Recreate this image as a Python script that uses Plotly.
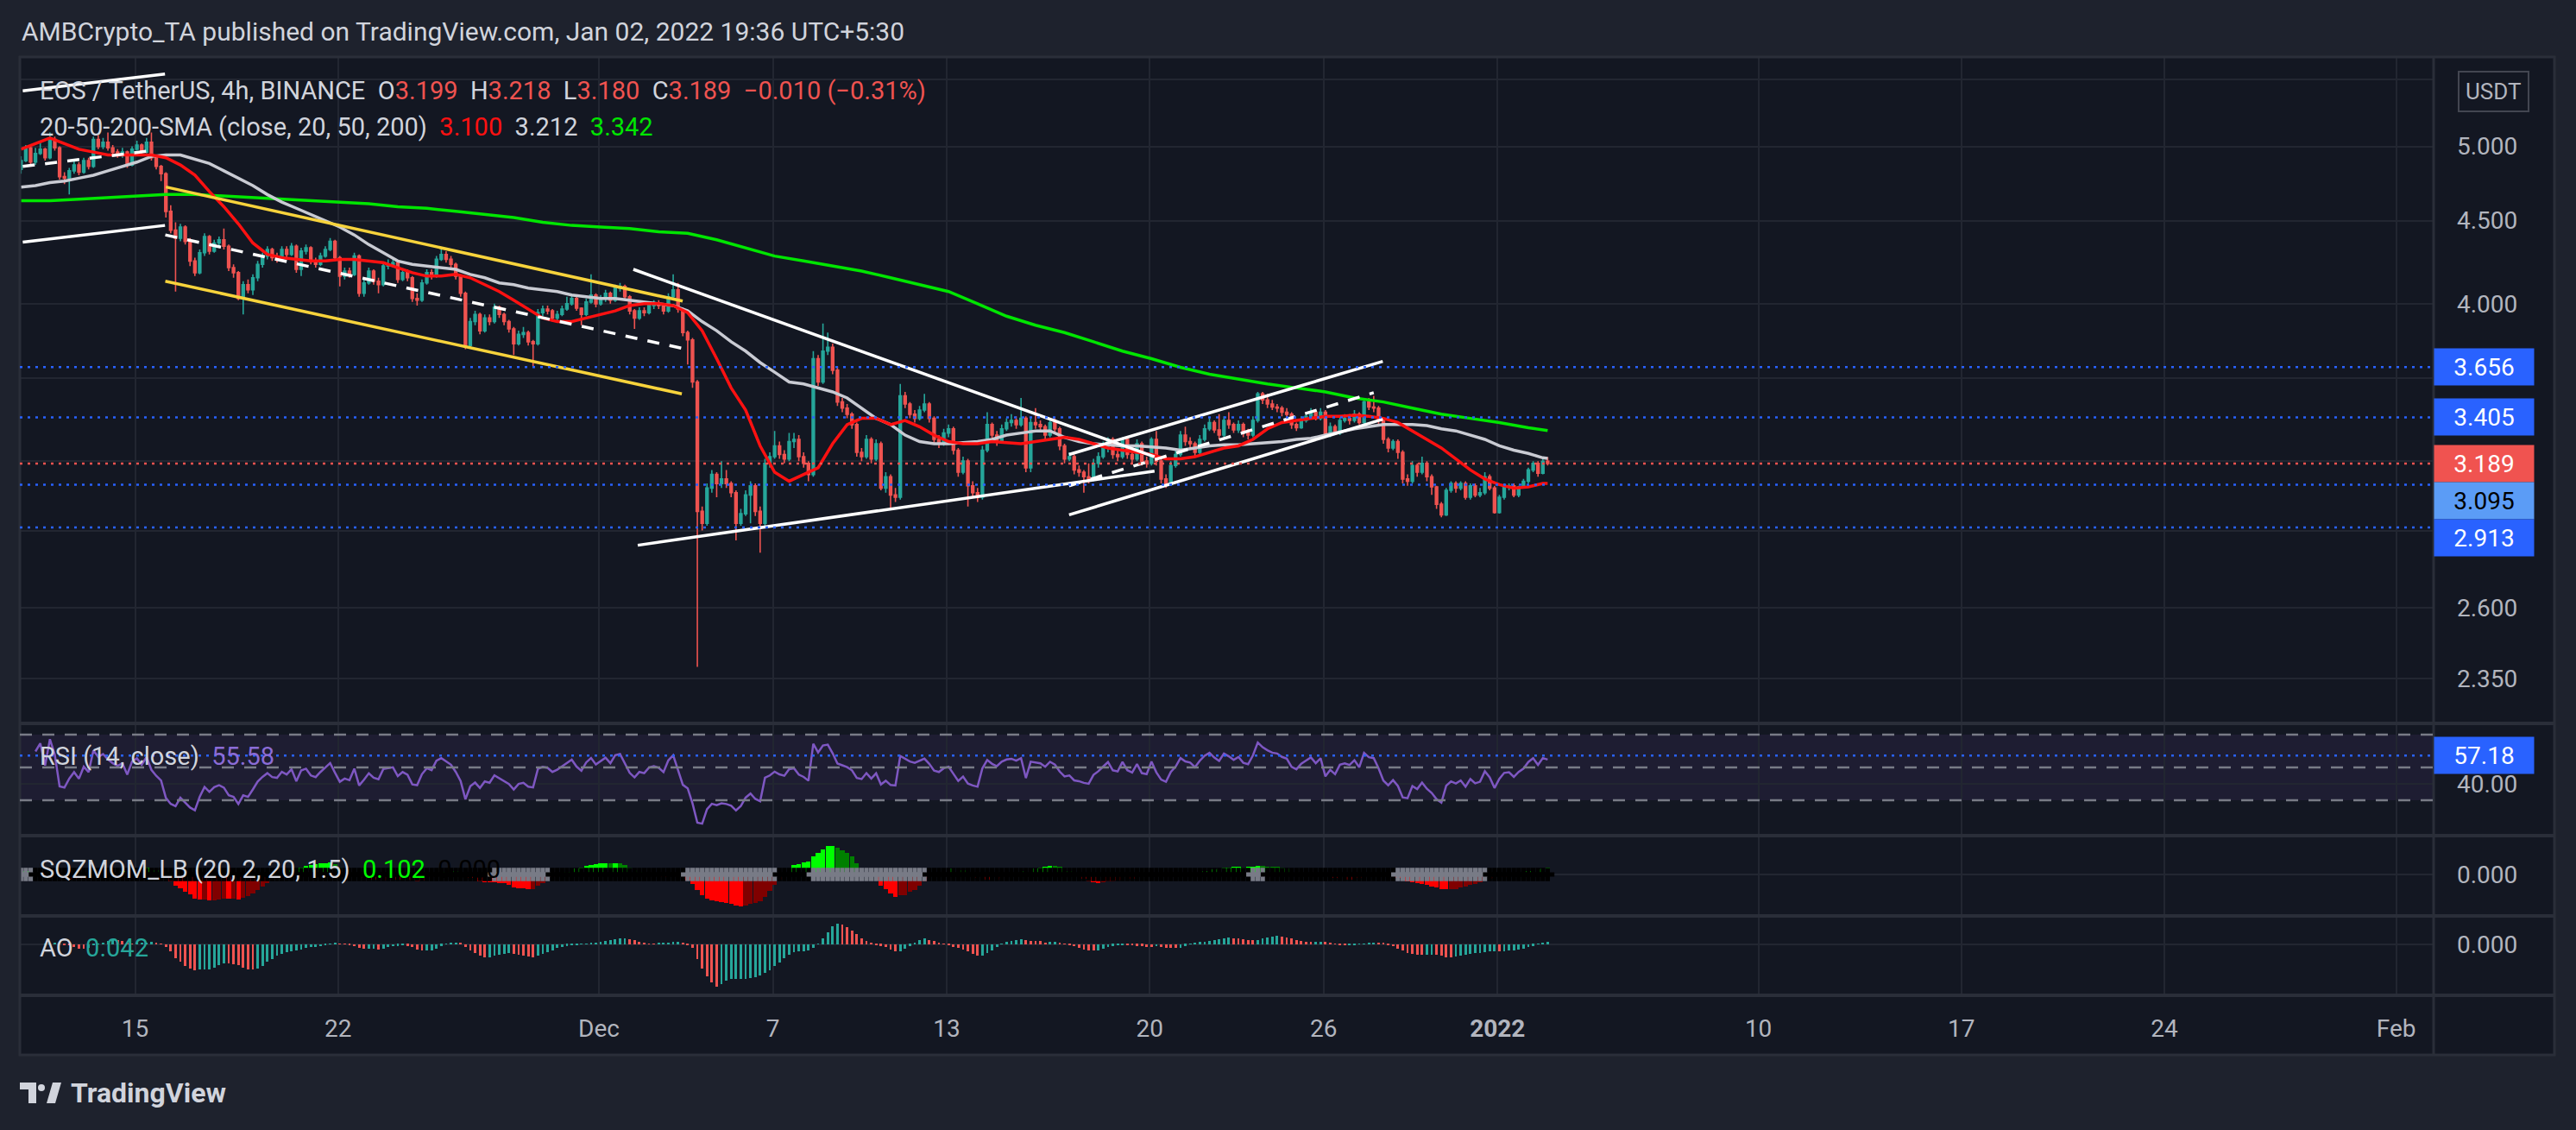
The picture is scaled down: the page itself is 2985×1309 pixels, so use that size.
import numpy as np
import pandas as pd
import plotly.graph_objects as go
from plotly.subplots import make_subplots

# EOS / TetherUS 4h candles, 11 Nov 2021 01:30 .. 02 Jan 2022 17:30 (UTC+5:30)
FIRST_OPEN = 4.84
CLOSE = [
    4.90, 4.99, 4.89, 4.95, 4.98, 4.92, 5.05, 4.99, 4.79, 4.78,
    4.83, 4.87, 4.82, 4.90, 4.86, 5.05, 5.00, 5.03, 4.99, 4.96,
    4.94, 4.96, 4.87, 4.98, 5.01, 4.96, 5.03, 4.92, 4.86, 4.81,
    4.56, 4.44, 4.39, 4.46, 4.37, 4.25, 4.18, 4.30, 4.40, 4.31,
    4.36, 4.38, 4.34, 4.21, 4.18, 4.03, 4.11, 4.08, 4.15, 4.23,
    4.28, 4.32, 4.27, 4.26, 4.32, 4.29, 4.34, 4.20, 4.31, 4.33,
    4.25, 4.23, 4.28, 4.32, 4.37, 4.27, 4.16, 4.19, 4.17, 4.28,
    4.06, 4.12, 4.19, 4.13, 4.11, 4.22, 4.23, 4.24, 4.14, 4.18,
    4.15, 4.03, 4.02, 4.12, 4.18, 4.16, 4.26, 4.29, 4.26, 4.23,
    4.16, 4.06, 3.77, 3.90, 3.94, 3.85, 3.92, 3.90, 3.98, 3.94,
    3.90, 3.86, 3.78, 3.83, 3.84, 3.79, 3.78, 3.95, 3.97, 3.96,
    3.92, 3.94, 3.97, 4.00, 4.03, 3.975, 3.94, 4.01, 4.05, 4.00,
    4.03, 4.06, 4.02, 4.09, 4.10, 4.04, 3.96, 3.92, 3.96, 3.95,
    3.99, 4.00, 3.99, 3.96, 4.04, 4.08, 3.97, 3.84, 3.80, 3.58,
    2.98, 2.93, 3.08, 3.14, 3.10, 3.12, 3.10, 3.06, 2.93, 2.97,
    3.05, 3.09, 2.98, 2.93, 3.19, 3.22, 3.27, 3.23, 3.21, 3.29,
    3.30, 3.22, 3.19, 3.14, 3.70, 3.58, 3.74, 3.76, 3.64, 3.48,
    3.45, 3.42, 3.37, 3.24, 3.22, 3.30, 3.21, 3.28, 3.08, 3.13,
    3.05, 3.04, 3.51, 3.47, 3.42, 3.40, 3.44, 3.47, 3.40, 3.30,
    3.28, 3.33, 3.35, 3.25, 3.15, 3.20, 3.09, 3.06, 3.04, 3.25,
    3.37, 3.32, 3.29, 3.35, 3.38, 3.39, 3.37, 3.40, 3.17, 3.38,
    3.37, 3.36, 3.32, 3.38, 3.35, 3.27, 3.21, 3.22, 3.16, 3.15,
    3.13, 3.12, 3.19, 3.22, 3.26, 3.30, 3.23, 3.22, 3.30, 3.23,
    3.21, 3.28, 3.20, 3.19, 3.30, 3.20, 3.12, 3.095, 3.18, 3.23,
    3.32, 3.29, 3.28, 3.24, 3.30, 3.35, 3.38, 3.345, 3.32, 3.39,
    3.37, 3.345, 3.37, 3.33, 3.32, 3.39, 3.52, 3.49, 3.47, 3.455,
    3.45, 3.43, 3.42, 3.37, 3.355, 3.39, 3.41, 3.43, 3.40, 3.43,
    3.32, 3.36, 3.33, 3.39, 3.40, 3.39, 3.42, 3.38, 3.48, 3.455,
    3.45, 3.39, 3.30, 3.26, 3.29, 3.24, 3.12, 3.11, 3.18, 3.15,
    3.19, 3.13, 3.085, 3.01, 2.965, 3.07, 3.10, 3.08, 3.10, 3.04,
    3.09, 3.05, 3.06, 3.13, 3.08, 2.975, 3.04, 3.085, 3.09, 3.05,
    3.085, 3.11, 3.16, 3.19, 3.145, 3.199, 3.189,
]
HIGH = [
    4.93, 5.01, 5.00, 4.99, 5.03, 4.99, 5.10, 5.07, 5.00, 4.82,
    4.85, 4.90, 4.89, 4.92, 4.92, 5.07, 5.08, 5.06, 5.10, 5.01,
    4.98, 4.99, 4.97, 5.00, 5.04, 5.02, 5.06, 5.10, 4.94, 4.87,
    4.82, 4.60, 4.49, 4.48, 4.47, 4.39, 4.27, 4.32, 4.42, 4.41,
    4.38, 4.40, 4.45, 4.35, 4.23, 4.19, 4.13, 4.14, 4.17, 4.25,
    4.30, 4.34, 4.33, 4.30, 4.34, 4.34, 4.36, 4.35, 4.33, 4.35,
    4.34, 4.27, 4.30, 4.34, 4.39, 4.38, 4.28, 4.21, 4.21, 4.30,
    4.29, 4.14, 4.21, 4.20, 4.15, 4.24, 4.26, 4.27, 4.25, 4.20,
    4.20, 4.16, 4.06, 4.14, 4.20, 4.20, 4.28, 4.32, 4.31, 4.28,
    4.24, 4.17, 4.07, 3.92, 3.96, 3.95, 3.94, 3.94, 4.00, 3.99,
    3.95, 3.91, 3.87, 3.85, 3.87, 3.85, 3.80, 3.97, 3.99, 3.99,
    3.97, 3.96, 3.99, 4.04, 4.05, 4.04, 3.98, 4.03, 4.17, 4.06,
    4.05, 4.08, 4.07, 4.11, 4.12, 4.11, 4.05, 3.97, 3.98, 3.98,
    4.01, 4.02, 4.02, 4.00, 4.06, 4.17, 4.12, 3.98, 3.85, 3.81,
    3.59, 3.00, 3.10, 3.16, 3.15, 3.20, 3.16, 3.11, 3.07, 2.99,
    3.07, 3.11, 3.10, 3.00, 3.21, 3.24, 3.34, 3.29, 3.25, 3.33,
    3.33, 3.32, 3.24, 3.20, 3.74, 3.72, 3.89, 3.84, 3.78, 3.66,
    3.50, 3.47, 3.43, 3.38, 3.26, 3.32, 3.31, 3.30, 3.29, 3.15,
    3.14, 3.08, 3.57, 3.53, 3.48, 3.44, 3.46, 3.52, 3.48, 3.41,
    3.32, 3.35, 3.37, 3.36, 3.26, 3.22, 3.21, 3.11, 3.08, 3.27,
    3.43, 3.38, 3.34, 3.37, 3.40, 3.42, 3.41, 3.50, 3.41, 3.40,
    3.45, 3.39, 3.37, 3.40, 3.40, 3.36, 3.28, 3.24, 3.23, 3.18,
    3.16, 3.19, 3.21, 3.24, 3.29, 3.31, 3.31, 3.25, 3.31, 3.31,
    3.24, 3.30, 3.29, 3.22, 3.31, 3.34, 3.21, 3.14, 3.20, 3.25,
    3.34, 3.36, 3.31, 3.29, 3.32, 3.37, 3.40, 3.39, 3.42, 3.41,
    3.43, 3.38, 3.39, 3.38, 3.35, 3.41, 3.53, 3.53, 3.52, 3.49,
    3.47, 3.46, 3.45, 3.43, 3.38, 3.41, 3.42, 3.45, 3.44, 3.45,
    3.44, 3.38, 3.37, 3.41, 3.42, 3.42, 3.44, 3.43, 3.50, 3.50,
    3.51, 3.46, 3.40, 3.31, 3.30, 3.30, 3.25, 3.14, 3.20, 3.19,
    3.22, 3.20, 3.14, 3.09, 3.02, 3.08, 3.11, 3.11, 3.11, 3.11,
    3.10, 3.10, 3.08, 3.15, 3.14, 3.09, 3.05, 3.10, 3.10, 3.10,
    3.09, 3.12, 3.17, 3.20, 3.20, 3.21, 3.218,
]
LOW = [
    4.81, 4.89, 4.87, 4.87, 4.94, 4.90, 4.91, 4.97, 4.77, 4.74,
    4.67, 4.81, 4.80, 4.81, 4.84, 4.85, 4.98, 4.98, 4.97, 4.94,
    4.92, 4.92, 4.85, 4.86, 4.97, 4.95, 4.95, 4.90, 4.84, 4.76,
    4.52, 4.42, 4.07, 4.37, 4.35, 4.22, 4.16, 4.17, 4.28, 4.29,
    4.30, 4.33, 4.32, 4.19, 4.15, 4.02, 3.94, 4.06, 4.05, 4.13,
    4.21, 4.26, 4.25, 4.24, 4.25, 4.27, 4.28, 4.18, 4.16, 4.29,
    4.23, 4.21, 4.22, 4.27, 4.31, 4.25, 4.10, 4.14, 4.15, 4.16,
    4.04, 4.04, 4.11, 4.11, 4.06, 4.10, 4.20, 4.21, 4.12, 4.13,
    4.13, 4.01, 3.99, 4.01, 4.11, 4.14, 4.15, 4.25, 4.24, 4.21,
    4.14, 4.04, 3.75, 3.76, 3.88, 3.83, 3.84, 3.88, 3.89, 3.92,
    3.88, 3.84, 3.72, 3.77, 3.81, 3.77, 3.66, 3.77, 3.93, 3.94,
    3.90, 3.90, 3.93, 3.96, 3.99, 3.96, 3.88, 3.93, 4.00, 3.98,
    3.99, 4.01, 4.00, 4.01, 4.07, 4.02, 3.94, 3.86, 3.91, 3.93,
    3.94, 3.97, 3.97, 3.94, 3.95, 4.03, 3.95, 3.82, 3.67, 3.55,
    2.39, 2.90, 2.92, 3.06, 3.04, 3.08, 3.08, 3.04, 2.86, 2.92,
    2.96, 2.93, 2.96, 2.81, 2.92, 3.17, 3.21, 3.21, 3.19, 3.20,
    3.26, 3.20, 3.17, 3.11, 3.13, 3.56, 3.57, 3.72, 3.62, 3.46,
    3.43, 3.40, 3.35, 3.22, 3.20, 3.21, 3.19, 3.20, 3.07, 3.06,
    2.99, 3.02, 3.03, 3.45, 3.40, 3.38, 3.39, 3.43, 3.38, 3.28,
    3.26, 3.27, 3.31, 3.23, 3.13, 3.14, 3.00, 3.04, 3.02, 3.03,
    3.24, 3.30, 3.27, 3.28, 3.34, 3.36, 3.35, 3.36, 3.15, 3.15,
    3.35, 3.34, 3.30, 3.31, 3.33, 3.25, 3.19, 3.20, 3.14, 3.13,
    3.06, 3.10, 3.11, 3.17, 3.21, 3.24, 3.21, 3.20, 3.21, 3.21,
    3.19, 3.20, 3.18, 3.17, 3.18, 3.18, 3.10, 3.08, 3.09, 3.17,
    3.22, 3.27, 3.26, 3.22, 3.23, 3.29, 3.34, 3.33, 3.30, 3.31,
    3.35, 3.33, 3.33, 3.31, 3.30, 3.31, 3.38, 3.47, 3.45, 3.44,
    3.43, 3.41, 3.40, 3.35, 3.34, 3.35, 3.38, 3.40, 3.39, 3.39,
    3.31, 3.31, 3.32, 3.32, 3.38, 3.37, 3.38, 3.37, 3.37, 3.44,
    3.43, 3.37, 3.28, 3.24, 3.25, 3.21, 3.10, 3.09, 3.10, 3.13,
    3.14, 3.11, 3.05, 2.99, 2.955, 2.96, 3.06, 3.06, 3.07, 3.03,
    3.03, 3.04, 3.04, 3.05, 3.07, 2.97, 2.97, 3.03, 3.07, 3.04,
    3.04, 3.08, 3.10, 3.15, 3.13, 3.14, 3.180,
]

# moving averages as plotted: SMA20/50 every 12h, SMA200 every 24h, last point = legend value
SMA20 = [
    4.98, 5.02, 5.06, 5.02, 4.98, 4.96, 4.94, 4.94, 4.94, 4.94,
    4.92, 4.87, 4.80, 4.69, 4.59, 4.48, 4.36, 4.29, 4.27, 4.26,
    4.25, 4.25, 4.26, 4.26, 4.25, 4.24, 4.21, 4.18, 4.16, 4.16,
    4.17, 4.15, 4.11, 4.07, 4.02, 3.97, 3.92, 3.90, 3.90, 3.92,
    3.94, 3.96, 3.99, 4.00, 4.00, 3.99, 3.95, 3.85, 3.70, 3.55,
    3.44, 3.27, 3.15, 3.11, 3.14, 3.17, 3.28, 3.37, 3.40, 3.40,
    3.37, 3.39, 3.36, 3.32, 3.29, 3.28, 3.28, 3.29, 3.285, 3.28,
    3.29, 3.30, 3.31, 3.30, 3.28, 3.26, 3.25, 3.24, 3.23, 3.21,
    3.21, 3.22, 3.24, 3.26, 3.27, 3.30, 3.35, 3.38, 3.39, 3.40,
    3.41, 3.41, 3.415, 3.41, 3.40, 3.38, 3.34, 3.30, 3.26, 3.21,
    3.16, 3.12, 3.095, 3.08, 3.085, 3.10, 3.100,
]
SMA50 = [
    4.72, 4.73, 4.75, 4.76, 4.78, 4.80, 4.83, 4.86, 4.89, 4.93,
    4.94, 4.94, 4.91, 4.88, 4.83, 4.78, 4.73, 4.67, 4.62, 4.58,
    4.54, 4.50, 4.46, 4.41, 4.35, 4.30, 4.25, 4.23, 4.22, 4.21,
    4.20, 4.17, 4.15, 4.12, 4.11, 4.09, 4.08, 4.07, 4.05, 4.04,
    4.03, 4.03, 4.02, 4.01, 4.00, 3.99, 3.96, 3.90, 3.85, 3.79,
    3.74, 3.68, 3.63, 3.58, 3.57, 3.55, 3.53, 3.50, 3.45, 3.40,
    3.37, 3.32, 3.29, 3.28, 3.28, 3.285, 3.29, 3.30, 3.32, 3.33,
    3.34, 3.34, 3.31, 3.29, 3.28, 3.275, 3.27, 3.27, 3.265, 3.26,
    3.25, 3.26, 3.27, 3.275, 3.275, 3.28, 3.285, 3.29, 3.30, 3.305,
    3.32, 3.335, 3.35, 3.36, 3.37, 3.37, 3.37, 3.365, 3.35, 3.34,
    3.32, 3.30, 3.27, 3.25, 3.235, 3.215, 3.212,
]
SMA200 = [
    4.63, 4.63, 4.64, 4.65, 4.66, 4.67, 4.67, 4.66, 4.65, 4.64,
    4.63, 4.62, 4.61, 4.59, 4.58, 4.56, 4.54, 4.52, 4.49, 4.47,
    4.46, 4.45, 4.43, 4.42, 4.38, 4.33, 4.28, 4.25, 4.22, 4.19,
    4.15, 4.11, 4.07, 4.00, 3.93, 3.88, 3.84, 3.79, 3.74, 3.70,
    3.655, 3.62, 3.595, 3.57, 3.55, 3.53, 3.50, 3.48, 3.45, 3.42,
    3.40, 3.38, 3.355, 3.342,
]

# spans where the squeeze dots are grey (squeeze released); black elsewhere
SQZ_OFF_SPANS = [
    ("2021-11-11 00:00", "2021-11-11 10:00"),
    ("2021-11-27 08:00", "2021-11-29 06:00"),
    ("2021-12-04 01:00", "2021-12-07 02:00"),
    ("2021-12-08 06:00", "2021-12-12 07:00"),
    ("2021-12-23 11:00", "2021-12-23 23:00"),
    ("2021-12-28 11:00", "2021-12-31 16:00"),
]

# the author's drawings: (start time, start price, end time, end price)
WHITE_LINES = [
    ("2021-11-11 03:00", 5.41, "2021-11-16 00:45", 5.54),
    ("2021-11-11 03:00", 4.365, "2021-11-16 00:45", 4.47),
    ("2021-12-02 04:30", 4.20, "2021-12-20 04:00", 3.22),
    ("2021-12-02 08:10", 2.84, "2021-12-20 04:00", 3.155),
    ("2021-12-17 05:15", 3.23, "2021-12-28 01:00", 3.686),
    ("2021-12-17 05:15", 2.965, "2021-12-28 01:00", 3.396),
]
WHITE_DASHED = [
    ("2021-11-11 03:00", 4.86, "2021-11-15 14:00", 4.97),
    ("2021-11-16 01:00", 4.41, "2021-12-03 20:40", 3.755),
    ("2021-12-17 05:15", 3.09, "2021-12-27 17:30", 3.526),
]
YELLOW_LINES = [
    ("2021-11-16 01:30", 4.72, "2021-12-03 21:20", 4.015),
    ("2021-11-16 01:00", 4.13, "2021-12-03 20:40", 3.52),
]

BLUE_LEVELS = [3.656, 3.405, 3.095, 2.913]
LAST_PRICE = 3.189
RSI_MARK = 57.18

# grid levels of the price scale; those hidden under the tags carry no text
PRICE_TICKS = [2.35, 2.6, 2.9, 3.2, 3.6, 4.0, 4.5, 5.0, 5.5]
PRICE_TICK_TEXT = ["2.350", "2.600", "", "", "", "4.000", "4.500", "5.000", ""]
DATE_TICKS = ["2021-11-15", "2021-11-22", "2021-12-01", "2021-12-07", "2021-12-13",
              "2021-12-20", "2021-12-26", "2022-01-01", "2022-01-10", "2022-01-17",
              "2022-01-24", "2022-02-01"]
DATE_LABELS = ["15", "22", "Dec", "7", "13", "20", "26", "<b>2022</b>", "10", "17", "24", "Feb"]

# colours
BG_OUT = "#1e222d"
BG_PANE = "#131722"
GRID = "#222631"
BORDER = "#2a2e39"
TXT = "#d1d4dc"
AXTXT = "#b2b5be"
UP = "#26a69a"
DOWN = "#ef5350"
BLUE = "#2962ff"
FONT = "Roboto"
LEG = 29

# page geometry (pixels) of the plotting block
W, H = 2985, 1309
L, T, R, B = 23, 66, 2820, 1153


def fx(px):
    return (px - L) / (R - L)


def fy(py):
    return (B - py) / (B - T)


def span(txt, color):
    return f"<span style='color:{color}'>{txt}</span>"


times = pd.date_range("2021-11-11 01:30", periods=len(CLOSE), freq="4h")
close = pd.Series(CLOSE)
high = pd.Series(HIGH)
low = pd.Series(LOW)
opens = [FIRST_OPEN] + CLOSE[:-1]

# RSI(14), Wilder smoothing
chg = close.diff()
gain = chg.clip(lower=0).ewm(alpha=1 / 14, adjust=True, min_periods=3).mean()
loss = (-chg.clip(upper=0)).ewm(alpha=1 / 14, adjust=True, min_periods=3).mean()
rsi = 100 - 100 / (1 + gain / loss)

# Awesome oscillator
med = (high + low) / 2
ao = med.rolling(5, min_periods=1).mean() - med.rolling(34, min_periods=1).mean()
ao_col = [UP if i == 0 or ao[i] >= ao[i - 1] else DOWN for i in range(len(ao))]

# Squeeze momentum value (LazyBear 20, 2, 20, 1.5)
basis = close.rolling(20, min_periods=1).mean()
mid = ((high.rolling(20, min_periods=1).max() + low.rolling(20, min_periods=1).min()) / 2 + basis) / 2
src = (close - mid).to_numpy()
val = np.zeros(len(src))
for i in range(len(src)):
    w = src[max(0, i - 19): i + 1]
    if len(w) < 2:
        val[i] = w[-1]
    else:
        k, b0 = np.polyfit(np.arange(len(w)), w, 1)
        val[i] = b0 + k * (len(w) - 1)
sqz_col = []
for i in range(len(val)):
    p = val[i - 1] if i else 0
    if val[i] > 0:
        sqz_col.append("#00ff00" if val[i] > p else "#008000")
    else:
        sqz_col.append("#ff0000" if val[i] < p else "#800000")
cross_col = []
for t in times:
    off = any(pd.Timestamp(a) <= t <= pd.Timestamp(b) for a, b in SQZ_OFF_SPANS)
    cross_col.append("#787b86" if off else "#000000")

fig = make_subplots(rows=4, cols=1, shared_xaxes=True, vertical_spacing=0,
                    row_heights=[772, 130, 93, 92])

fig.add_trace(go.Candlestick(
    x=times, open=opens, high=HIGH, low=LOW, close=CLOSE,
    increasing=dict(line=dict(color=UP, width=1.6), fillcolor=UP),
    decreasing=dict(line=dict(color=DOWN, width=1.6), fillcolor=DOWN),
    whiskerwidth=0, hoverinfo="skip"), row=1, col=1)

t12 = list(times[::3]) + [times[-1]]
t24 = list(times[::6]) + [times[-1]]
fig.add_trace(go.Scatter(x=t24, y=SMA200, mode="lines", line=dict(color="#00e600", width=3.5)), row=1, col=1)
fig.add_trace(go.Scatter(x=t12, y=SMA50, mode="lines", line=dict(color="#c9cbd3", width=3.5)), row=1, col=1)
fig.add_trace(go.Scatter(x=t12, y=SMA20, mode="lines", line=dict(color="#ff1111", width=3.5)), row=1, col=1)

for group, color, dash in [(WHITE_LINES, "#ffffff", None), (WHITE_DASHED, "#ffffff", "14px,12px"),
                           (YELLOW_LINES, "#f7d33c", None)]:
    for t0, p0, t1, p1 in group:
        fig.add_trace(go.Scatter(x=[t0, t1], y=[p0, p1], mode="lines",
                                 line=dict(color=color, width=3.5, dash=dash)), row=1, col=1)

fig.add_trace(go.Scatter(x=times, y=rsi, mode="lines", line=dict(color="#7e57c2", width=2.5)), row=2, col=1)

fig.add_trace(go.Bar(x=times, y=val, marker=dict(color=sqz_col, line=dict(width=0)),
                     width=4 * 3600 * 1000 * 0.95), row=3, col=1)
fig.add_trace(go.Scatter(x=times, y=np.zeros(len(times)), mode="markers",
                         marker=dict(symbol="cross", size=13, color=cross_col, line=dict(width=0))),
              row=3, col=1)

fig.add_trace(go.Bar(x=times, y=ao, marker=dict(color=ao_col, line=dict(width=0)),
                     width=4 * 3600 * 1000 * 0.5), row=4, col=1)

# axes
xr = ["2021-11-11 00:35", "2022-02-02 07:00"]
fig.update_xaxes(type="date", range=xr, tickvals=DATE_TICKS, ticktext=DATE_LABELS,
                 showgrid=True, gridcolor=GRID, gridwidth=2, zeroline=False, showline=False,
                 ticks="", rangeslider_visible=False, fixedrange=True)
for r in (1, 2, 3):
    fig.update_xaxes(showticklabels=False, row=r, col=1)
fig.update_xaxes(showticklabels=True, tickfont=dict(family=FONT, size=28, color=AXTXT),
                 ticklabelstandoff=19, row=4, col=1)

yax = dict(side="right", showgrid=True, gridcolor=GRID, gridwidth=2, zeroline=False,
           showline=False, ticks="", ticklabelstandoff=26, fixedrange=True,
           tickfont=dict(family=FONT, size=28, color=AXTXT))
fig.update_yaxes(type="log", range=[np.log10(2.206), np.log10(5.676)], tickvals=PRICE_TICKS,
                 ticktext=PRICE_TICK_TEXT, row=1, col=1, **yax)
fig.update_yaxes(range=[8.4, 76.8], tickvals=[40], ticktext=["40.00"], row=2, col=1, **yax)
m = float(np.max(np.abs(val)))
fig.update_yaxes(range=[-1.3 * m, 1.22 * m], tickvals=[0], ticktext=["0.000"], row=3, col=1, **yax)
amin = float(ao.min())
fig.update_yaxes(range=[1.2 * amin, -0.67 * amin], tickvals=[0], ticktext=["0.000"], row=4, col=1, **yax)

shapes = []
# pane block background and frame
shapes.append(dict(type="rect", xref="paper", yref="paper", x0=fx(L), x1=fx(2960), y0=fy(1222), y1=fy(T),
                   fillcolor=BG_PANE, line=dict(width=0), layer="below"))
for py in (838, 968, 1061, B):
    shapes.append(dict(type="line", xref="paper", yref="paper", x0=fx(L), x1=fx(2960), y0=fy(py), y1=fy(py),
                       line=dict(color=BORDER, width=4)))
shapes.append(dict(type="line", xref="paper", yref="paper", x0=1, x1=1, y0=fy(1222), y1=fy(T),
                   line=dict(color=BORDER, width=3)))
shapes.append(dict(type="rect", xref="paper", yref="paper", x0=fx(L), x1=fx(2960), y0=fy(1222), y1=fy(T),
                   line=dict(color=BORDER, width=3)))
# horizontal levels
for lv in BLUE_LEVELS:
    shapes.append(dict(type="line", xref="paper", yref="y", x0=0, x1=1, y0=lv, y1=lv,
                       line=dict(color=BLUE, width=2.5, dash="3px,6px")))
shapes.append(dict(type="line", xref="paper", yref="y", x0=0, x1=1, y0=LAST_PRICE, y1=LAST_PRICE,
                   line=dict(color=DOWN, width=2.5, dash="3px,6px")))
# RSI band
shapes.append(dict(type="rect", xref="paper", yref="y2", x0=0, x1=1, y0=30, y1=70,
                   fillcolor="rgba(126,87,194,0.10)", line=dict(width=0), layer="below"))
for lv in (70, 50, 30):
    shapes.append(dict(type="line", xref="paper", yref="y2", x0=0, x1=1, y0=lv, y1=lv,
                       line=dict(color="#787b86", width=2.5, dash="14px,12px")))
shapes.append(dict(type="line", xref="paper", yref="y2", x0=0, x1=1, y0=RSI_MARK, y1=RSI_MARK,
                   line=dict(color=BLUE, width=2.5, dash="3px,6px")))


def path(points):
    return "M " + " L ".join(f"{fx(a)} {fy(b)}" for a, b in points) + " Z"


# TradingView logo mark
logo = "#d1d4dc"
shapes.append(dict(type="path", xref="paper", yref="paper", fillcolor=logo, line=dict(width=0),
                   path=path([(23, 1254), (42, 1254), (42, 1278), (33, 1278), (33, 1262), (23, 1262)])))
shapes.append(dict(type="circle", xref="paper", yref="paper", fillcolor=logo, line=dict(width=0),
                   x0=fx(44), x1=fx(52), y0=fy(1256), y1=fy(1264)))
shapes.append(dict(type="path", xref="paper", yref="paper", fillcolor=logo, line=dict(width=0),
                   path=path([(54, 1278), (61, 1254), (71, 1254), (64, 1278)])))

ann = []


def text(x, y, s, size=LEG, color=TXT, xanchor="left"):
    ann.append(dict(xref="paper", yref="paper", x=fx(x), y=fy(y), text=s, showarrow=False,
                    xanchor=xanchor, yanchor="middle", font=dict(family=FONT, size=size, color=color)))


sp = "\u00a0\u00a0"
text(23, 36, "AMBCrypto_TA published on TradingView.com, Jan 02, 2022 19:36 UTC+5:30", size=30)
text(44, 105, "EOS / TetherUS, 4h, BINANCE" + sp + "O" + span("3.199", DOWN) + sp + "H" + span("3.218", DOWN)
     + sp + "L" + span("3.180", DOWN) + sp + "C" + span("3.189", DOWN) + sp + span("−0.010 (−0.31%)", DOWN))
text(44, 147, "20-50-200-SMA (close, 20, 50, 200)" + sp + span("3.100", "#ff1111") + sp
     + span("3.212", TXT) + sp + span("3.342", "#00e600"))
text(44, 876, "RSI (14, close)" + sp + span("55.58", "#8b6cd6"))
text(44, 1007, "SQZMOM_LB (20, 2, 20, 1.5)" + sp + span("0.102", "#00ff00") + sp + span("0.000", "#000000"))
text(44, 1098, "AO" + sp + span("0.042", UP))
text(80, 1266, "<b>TradingView</b>", size=32)

# price scale labels
ann.append(dict(xref="paper", yref="paper", x=fx(2890), y=fy(106), text="USDT", showarrow=False,
                xanchor="center", yanchor="middle", bgcolor=BG_PANE, bordercolor="#434651",
                borderwidth=2, borderpad=7, font=dict(family=FONT, size=26, color=AXTXT)))
tags = [(3.656, BLUE, "#ffffff", 0), (3.405, BLUE, "#ffffff", 0), (LAST_PRICE, "#f05350", "#ffffff", 0),
        (3.095, "#5b9cf6", "#000000", -19), (2.913, BLUE, "#ffffff", -12)]
for lv, bg, fg, shift in tags:
    ann.append(dict(xref="paper", yref="y", x=1, y=np.log10(lv), yshift=shift, text=f"{lv:.3f}",
                    showarrow=False, xanchor="left", yanchor="middle", bgcolor=bg, width=111, height=38,
                    borderpad=2, font=dict(family=FONT, size=28, color=fg)))
ann.append(dict(xref="paper", yref="y2", x=1, y=RSI_MARK, text=f"{RSI_MARK:.2f}", showarrow=False,
                xanchor="left", yanchor="middle", bgcolor=BLUE, width=111, height=38, borderpad=2,
                font=dict(family=FONT, size=28, color="#ffffff")))

fig.update_layout(
    width=W, height=H,
    margin=dict(l=L, r=W - R, t=T, b=H - B, pad=0),
    paper_bgcolor=BG_OUT, plot_bgcolor=BG_PANE,
    showlegend=False, bargap=0, hovermode=False,
    font=dict(family=FONT, color=AXTXT),
    shapes=shapes, annotations=ann,
)

fig.write_html("out.html", config={"displayModeBar": False},
               post_script="document.body.style.margin='0';")
